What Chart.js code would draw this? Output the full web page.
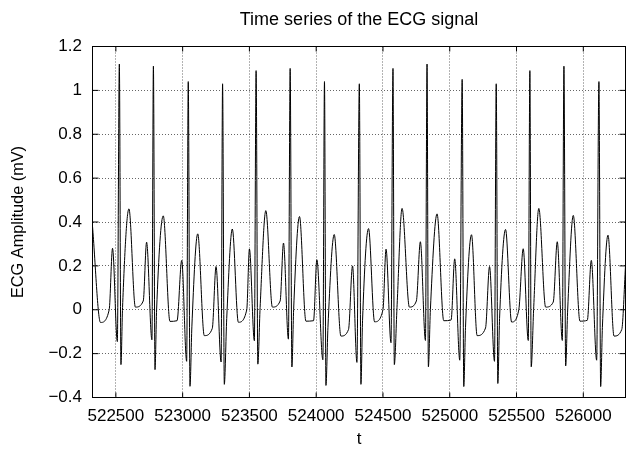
<!DOCTYPE html>
<html>
<head>
<meta charset="utf-8">
<title>Time series of the ECG signal</title>
<script src="https://cdn.jsdelivr.net/npm/chart.js@4.4.1/dist/chart.umd.min.js"></script>
<style>
  html, body { margin: 0; padding: 0; background: #fff; }
  #wrap { width: 626px; height: 450px; }
</style>
</head>
<body>
<div id="wrap"><canvas id="chart" width="626" height="450"></canvas></div>
<script>
// ECG samples (turning points of the trace)
let tValues = [
  522325, 522385, 522450, 522475, 522511, 522526, 522538, 522550, 522598, 522646,
  522705, 522730, 522770, 522781, 522793, 522805, 522855, 522905, 522958, 522993,
  523030, 523042, 523055, 523069, 523113, 523162, 523222, 523250, 523288, 523299,
  523312, 523330, 523372, 523417, 523480, 523500, 523537, 523550, 523563, 523580,
  523623, 523672, 523730, 523755, 523792, 523805, 523818, 523831, 523875, 523923,
  523980, 524005, 524050, 524062, 524073, 524088, 524135, 524185, 524242, 524272,
  524305, 524323, 524335, 524347, 524392, 524437, 524500, 524523, 524560, 524575,
  524585, 524605, 524643, 524698, 524750, 524780, 524818, 524830, 524840, 524855,
  524905, 524955, 525010, 525037, 525075, 525093, 525105, 525118, 525163, 525205,
  525268, 525298, 525335, 525348, 525360, 525373, 525418, 525463, 525517, 525550,
  525588, 525600, 525610, 525628, 525667, 525718, 525775, 525805, 525843, 525855,
  525868, 525883, 525925, 525975, 526030, 526060, 526100, 526117, 526130, 526143,
  526185, 526230, 526288, 526316
];

let ecgValues = [
  0.38, -0.058, 0.0, 0.28, -0.145, 1.12, -0.25, 0.01, 0.46, 0.012,
  0.04, 0.308, -0.137, 1.11, -0.273, 0.0, 0.428, -0.053, -0.05, 0.225,
  -0.235, 1.04, -0.349, -0.078, 0.346, -0.118, -0.085, 0.197, -0.238, 1.03,
  -0.34, -0.04, 0.368, -0.057, 0.0, 0.277, -0.141, 1.09, -0.248, 0.01,
  0.452, 0.012, 0.04, 0.304, -0.134, 1.10, -0.261, 0.0, 0.425, -0.052,
  -0.05, 0.228, -0.228, 1.04, -0.345, -0.08, 0.343, -0.12, -0.09, 0.20,
  -0.24, 1.03, -0.34, -0.05, 0.37, -0.055, 0.0, 0.276, -0.15, 1.10,
  -0.25, 0.01, 0.462, 0.012, 0.04, 0.31, -0.14, 1.12, -0.26, 0.0,
  0.437, -0.05, -0.047, 0.232, -0.23, 1.05, -0.35, -0.08, 0.342, -0.118,
  -0.083, 0.197, -0.235, 1.03, -0.336, -0.04, 0.366, -0.056, 0.0, 0.278,
  -0.14, 1.09, -0.26, 0.0, 0.462, 0.012, 0.035, 0.31, -0.14, 1.11,
  -0.256, 0.0, 0.43, -0.052, -0.048, 0.225, -0.23, 1.04, -0.35, -0.08,
  0.34, -0.12, -0.09, 0.2
];

let xTicks = [522500, 523000, 523500, 524000, 524500, 525000, 525500, 526000];
let yTicks = [-0.4, -0.2, 0, 0.2, 0.4, 0.6, 0.8, 1, 1.2];
let yTickLabels = ['\u22120.4', '\u22120.2', '0', '0.2', '0.4', '0.6', '0.8', '1', '1.2'];

let puntos = tValues.map((t, i) => ({ x: t, y: ecgValues[i] }));

// gnuplot style frame with inward tick marks on all four sides
const marco = {
    id: 'marco',
    afterDatasetsDraw(chart) {
        const { ctx, chartArea: a, scales: { x, y } } = chart;
        ctx.save();
        ctx.strokeStyle = '#000';
        ctx.lineWidth = 1;
        ctx.beginPath();
        x.ticks.forEach(t => {
            const px = x.getPixelForValue(t.value);
            ctx.moveTo(px, a.bottom); ctx.lineTo(px, a.bottom - 5);
            ctx.moveTo(px, a.top); ctx.lineTo(px, a.top + 5);
        });
        y.ticks.forEach(t => {
            const py = y.getPixelForValue(t.value);
            ctx.moveTo(a.left, py); ctx.lineTo(a.left + 6, py);
            ctx.moveTo(a.right, py); ctx.lineTo(a.right - 6, py);
        });
        ctx.stroke();
        ctx.strokeRect(a.left, a.top, a.right - a.left, a.bottom - a.top);
        ctx.restore();
    }
};

Chart.defaults.font.family = '"Liberation Sans", Arial, sans-serif';
Chart.defaults.color = '#000';

let ctx = document.getElementById('chart').getContext('2d');
let grafica = new Chart(ctx, {
    type: 'line',
    data: {
        datasets: [{
            label: 'ECG',
            data: puntos,
            borderColor: '#000',
            borderWidth: 1,
            pointRadius: 0,
            fill: false,
            cubicInterpolationMode: 'monotone',
        }]
    },
    options: {
        responsive: false,
        animation: false,
        devicePixelRatio: 1,
        layout: { padding: { left: 0, right: 0.5, top: 0, bottom: 0 } },
        scales: {
            x: {
                type: 'linear',
                min: 522325,
                max: 526316,
                afterBuildTicks: (scale) => { scale.ticks = xTicks.map(v => ({ value: v })); },
                afterFit: (scale) => { scale.height = 52.5; },
                ticks: {
                    padding: 9,
                    maxRotation: 0,
                    autoSkip: false,
                    font: { size: 17 },
                    callback: (v) => String(v),
                },
                grid: {
                    color: 'rgba(0, 0, 0, 0.6)',
                    lineWidth: 1,
                    drawTicks: false,
                },
                border: { display: false, dash: [1, 2] },
                title: {
                    display: true,
                    text: 't',
                    font: { size: 17 },
                    padding: { top: 0, bottom: 0 },
                },
            },
            y: {
                type: 'linear',
                min: -0.4,
                max: 1.2,
                afterBuildTicks: (scale) => { scale.ticks = yTicks.map(v => ({ value: v })); },
                afterFit: (scale) => { scale.width = 92.5; },
                ticks: {
                    padding: 10.5,
                    font: { size: 17 },
                    callback: (v, i) => yTickLabels[i],
                },
                grid: {
                    color: 'rgba(0, 0, 0, 0.6)',
                    lineWidth: 1,
                    drawTicks: false,
                },
                border: { display: false, dash: [1, 2] },
                title: {
                    display: true,
                    text: 'ECG Amplitude (mV)',
                    font: { size: 16.3 },
                    padding: { top: 8.6, bottom: 0 },
                },
            }
        },
        plugins: {
            legend: { display: false },
            tooltip: { enabled: false },
            title: {
                display: true,
                text: 'Time series of the ECG signal',
                fullSize: false,
                font: { size: 18, weight: 'normal' },
                color: '#000',
                padding: { top: 9.7, bottom: 15.2 },
            },
        },
    },
    plugins: [marco],
});
</script>
</body>
</html>
